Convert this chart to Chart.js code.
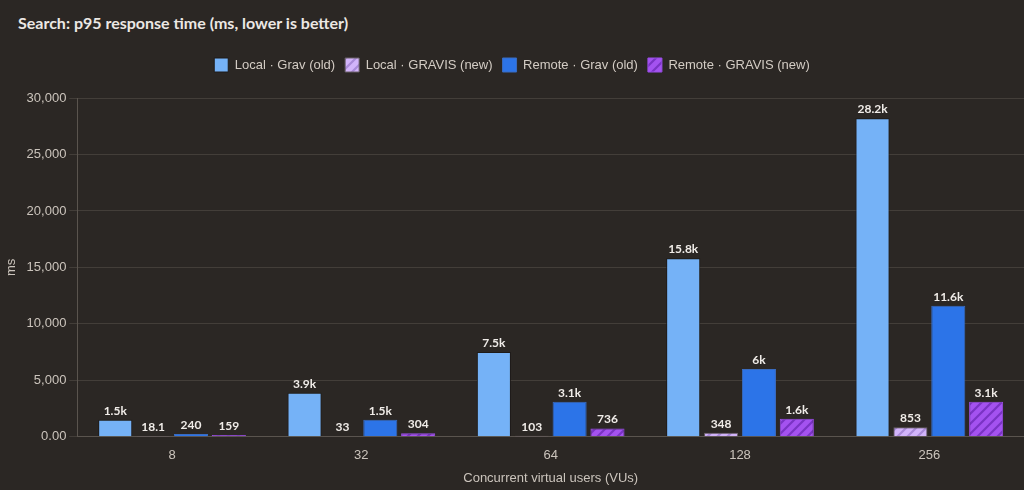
<!DOCTYPE html>
<html>
<head>
<meta charset="utf-8">
<script src="https://cdn.jsdelivr.net/npm/chart.js@4/dist/chart.umd.min.js"></script>
<style>
  html, body { margin: 0; padding: 0; background: #2b2724; }
  #title { height: 44px; padding-left: 18px; color: #ece8e4;
           font: 700 16px Lato, "Open Sans", sans-serif; line-height: 45px; }
  #wrap { position: relative; width: 1024px; height: 446px; }
</style>
</head>
<body>
<div id="title">Search: p95 response time (ms, lower is better)</div>
<div id="wrap"><canvas id="c"></canvas></div>
<script>
const categories = ["8", "32", "64", "128", "256"];
const seriesNames = ["Local · Grav (old)", "Local · GRAVIS (new)", "Remote · Grav (old)", "Remote · GRAVIS (new)"];
const localGravOld = [1500, 3900, 7500, 15800, 28200];
const localGravisNew = [18.1, 33, 103, 348, 853];
const remoteGravOld = [240, 1500, 3100, 6000, 11600];
const remoteGravisNew = [159, 304, 736, 1600, 3100];
const yTicks = [0, 5000, 10000, 15000, 20000, 25000, 30000];

function hatch(bg, stripe) {
  const s = 10;
  const c = document.createElement('canvas');
  c.width = s; c.height = s;
  const g = c.getContext('2d');
  g.fillStyle = bg; g.fillRect(0, 0, s, s);
  g.strokeStyle = stripe; g.lineWidth = 2.2;
  g.beginPath();
  g.moveTo(-2, s + 2); g.lineTo(s + 2, -2);
  g.moveTo(-2, 2); g.lineTo(2, -2);
  g.moveTo(s - 2, s + 2); g.lineTo(s + 2, s - 2);
  g.stroke();
  return document.createElement('canvas').getContext('2d').createPattern(c, 'repeat');
}

const lavPattern = hatch('#d2b4fa', '#a98ad8');
const purplePattern = hatch('#a452f0', '#7a33c4');

function fmt(v) {
  if (v >= 1000) {
    const k = Math.round(v / 100) / 10;
    return (Number.isInteger(k) ? k.toFixed(0) : k.toFixed(1)) + 'k';
  }
  return String(v);
}

const valueLabels = {
  id: 'valueLabels',
  afterDatasetsDraw(chart) {
    const ctx = chart.ctx;
    ctx.save();
    ctx.font = '700 12px Lato, "Open Sans", sans-serif';
    ctx.fillStyle = '#f0ece8';
    ctx.textAlign = 'center';
    ctx.textBaseline = 'bottom';
    chart.data.datasets.forEach((ds, i) => {
      chart.getDatasetMeta(i).data.forEach((bar, j) => {
        ctx.fillText(fmt(ds.data[j]), bar.x, bar.y - 3);
      });
    });
    ctx.restore();
  }
};

const legendSpacer = {
  id: 'legendSpacer',
  beforeInit(chart) {
    const fit = chart.legend.fit;
    chart.legend.fit = function () {
      fit.bind(chart.legend)();
      this.height += 16;
    };
  }
};

const tickColor = '#cbc4bc';
const gridColor = '#433e39';
const baseFont = '"Liberation Sans", Arial, sans-serif';

new Chart(document.getElementById('c'), {
  type: 'bar',
  data: {
    labels: categories,
    datasets: [
      { label: seriesNames[0], data: localGravOld, backgroundColor: '#75b2f7', borderColor: '#1e1b19', borderWidth: 1 },
      { label: seriesNames[1], data: localGravisNew, backgroundColor: lavPattern, borderColor: '#6a6068', borderWidth: 1 },
      { label: seriesNames[2], data: remoteGravOld, backgroundColor: '#2c74e8', borderColor: '#3a6cc0', borderWidth: 1 },
      { label: seriesNames[3], data: remoteGravisNew, backgroundColor: purplePattern, borderColor: '#9a4ee8', borderWidth: 1 }
    ]
  },
  options: {
    responsive: true,
    maintainAspectRatio: false,
    animation: false,
    layout: { padding: { left: 0, right: 0, top: 4, bottom: 0 } },
    plugins: {
      title: { display: false },
      legend: {
        position: 'top',
        labels: {
          color: '#d3ccc4',
          font: { family: baseFont, size: 13 },
          boxWidth: 14, boxHeight: 14, padding: 10
        }
      },
      tooltip: { enabled: false }
    },
    scales: {
      x: {
        grid: { display: false },
        border: { color: '#5a544e' },
        ticks: { color: tickColor, font: { family: baseFont, size: 13 } },
        title: { display: true, text: 'Concurrent virtual users (VUs)', color: tickColor,
                 font: { family: baseFont, size: 13 }, padding: { top: 4, bottom: 4 } }
      },
      y: {
        min: 0, max: 30000,
        afterBuildTicks(axis) { axis.ticks = yTicks.map(v => ({ value: v })); },
        grid: { color: gridColor },
        border: { color: '#5a544e' },
        ticks: {
          color: tickColor,
          font: { family: baseFont, size: 13 },
          callback: v => v === 0 ? '0.00' : v.toLocaleString('en-US')
        },
        title: { display: true, text: 'ms', color: tickColor,
                 font: { family: baseFont, size: 13 } }
      }
    }
  },
  plugins: [valueLabels, legendSpacer]
});
</script>
</body>
</html>
